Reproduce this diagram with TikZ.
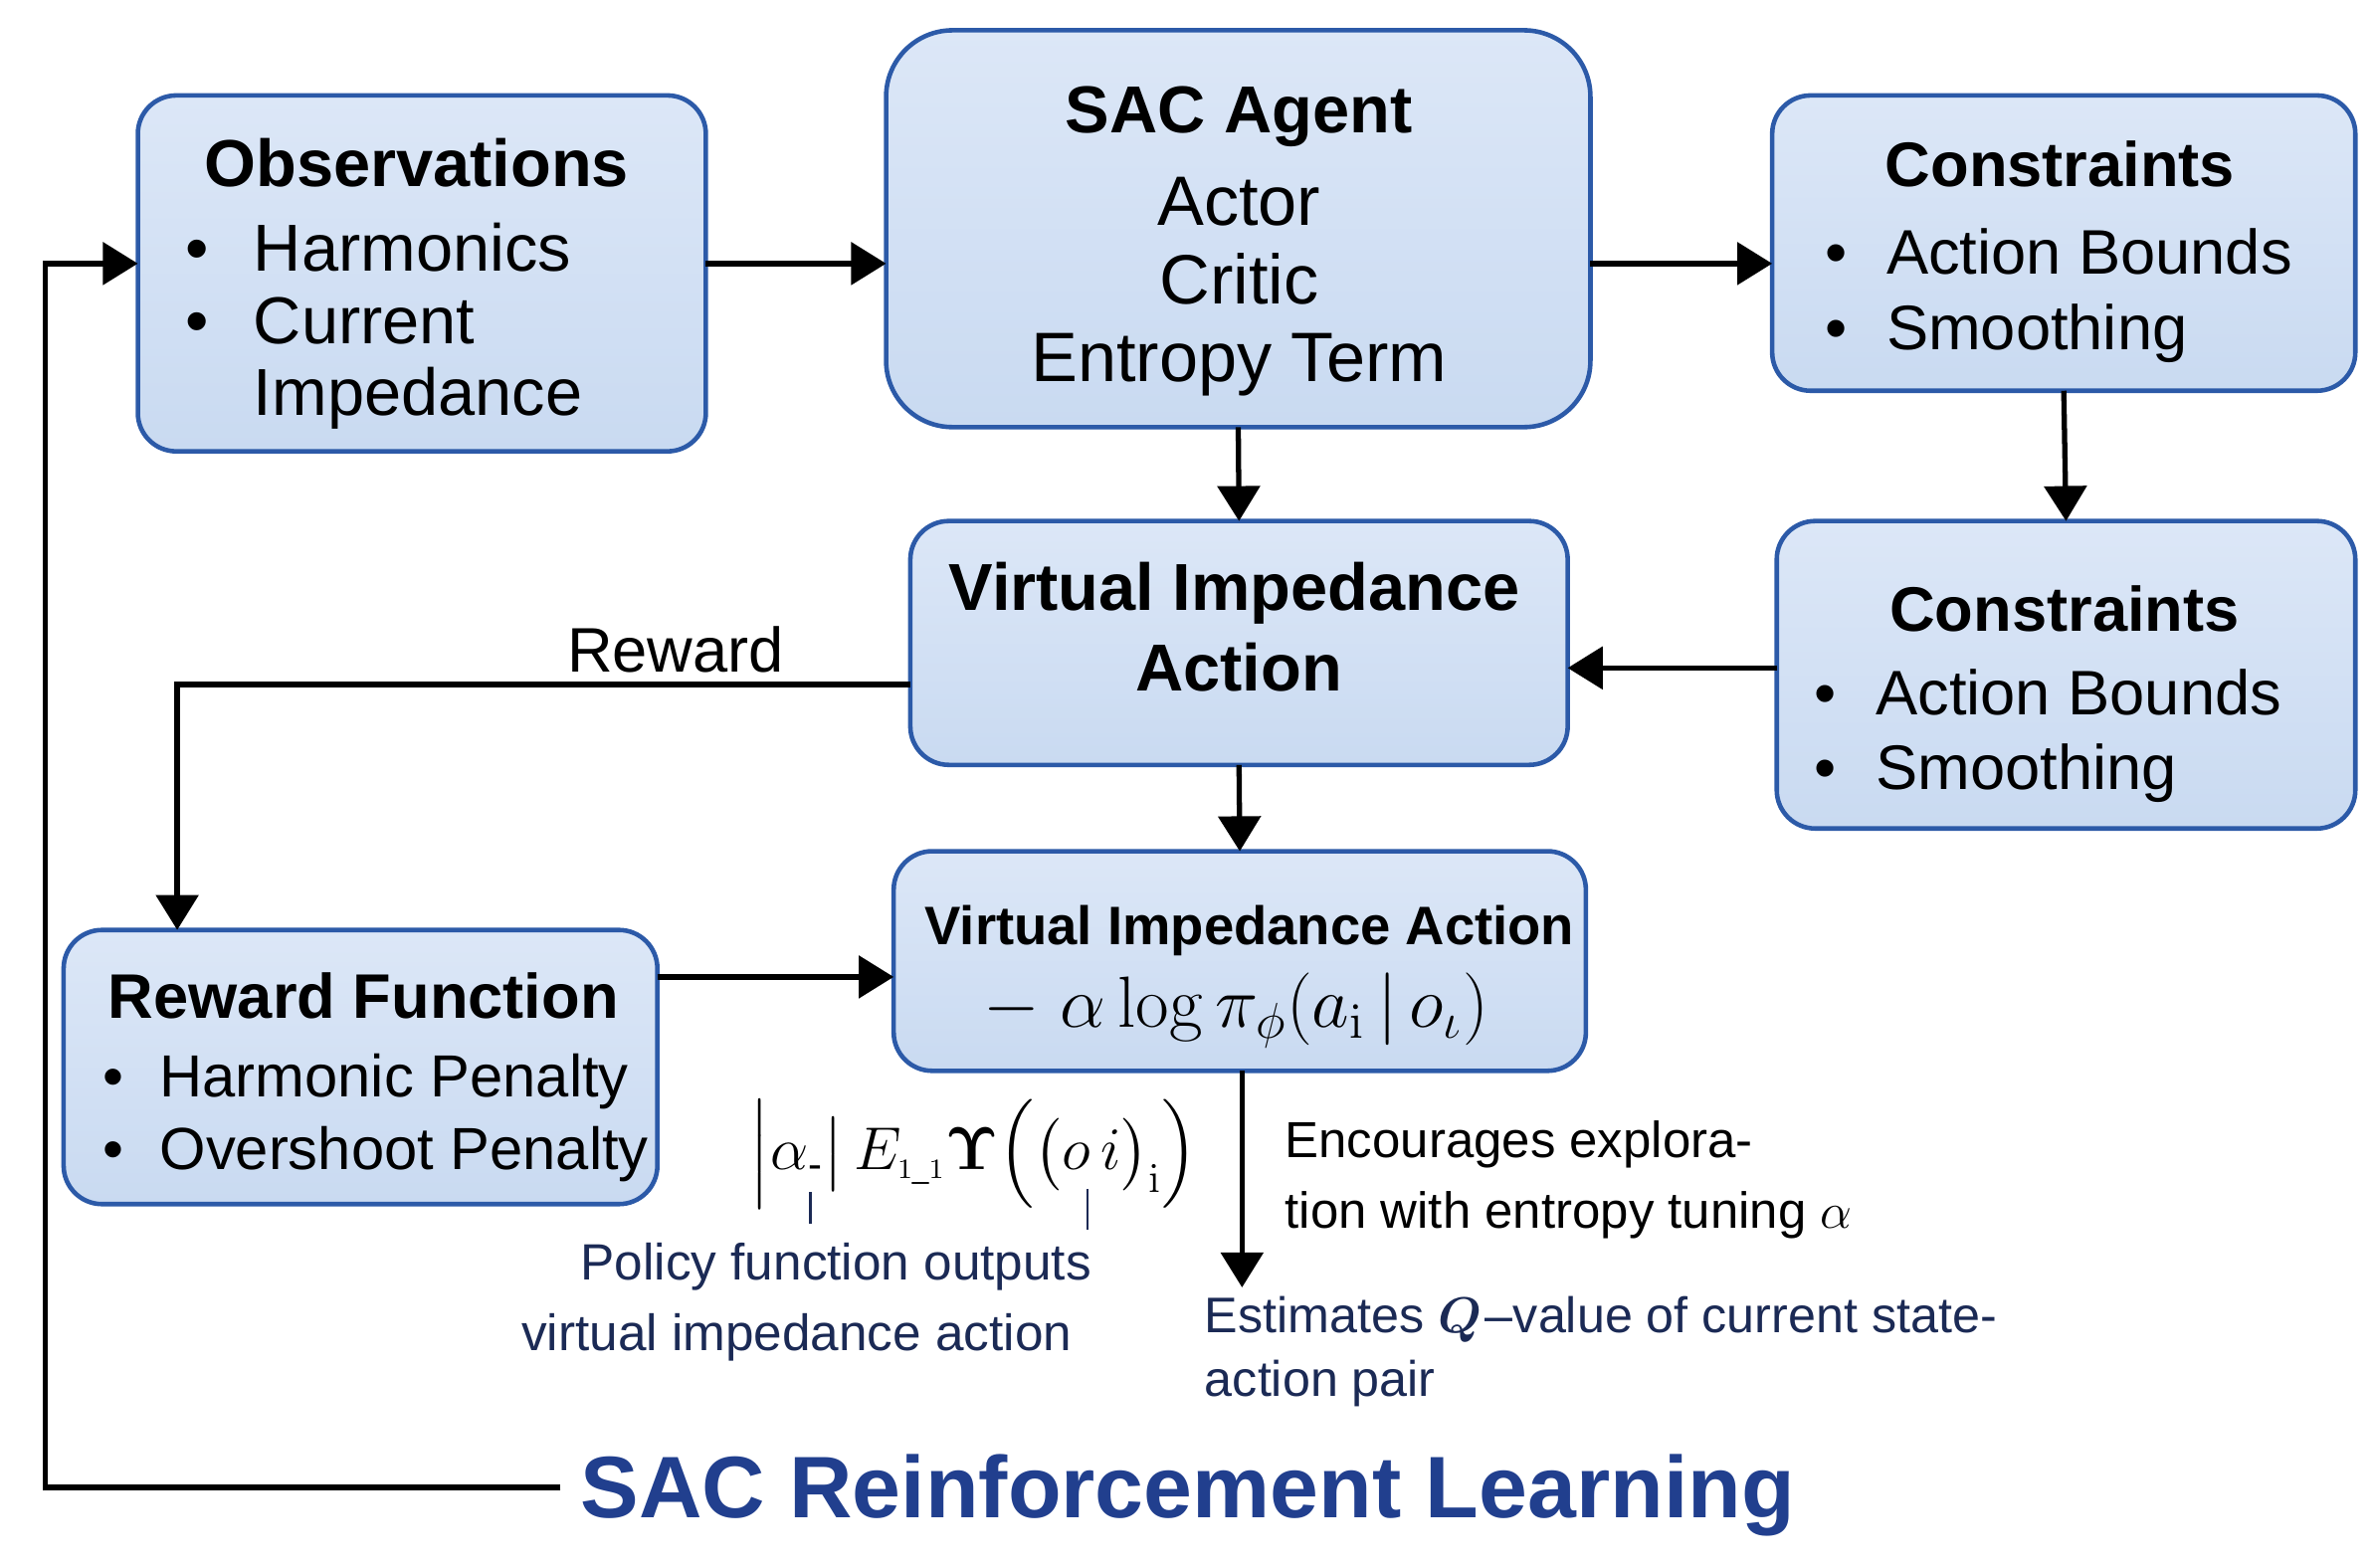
\documentclass[tikz,border=0pt]{standalone}
\usepackage{amsmath}
\usepackage[no-math]{fontspec}
\setmainfont{Liberation Sans}
\usetikzlibrary{arrows.meta,calc}
\definecolor{boxtop}{HTML}{DCE7F7}
\definecolor{boxbot}{HTML}{C9DAF1}
\definecolor{boxline}{HTML}{2C5AA8}
\definecolor{navy}{HTML}{1B2A55}
\definecolor{titleblue}{HTML}{213F8E}
\def\pu{0.015223cm}
\begin{document}
\begin{tikzpicture}[x=0.015223cm,y=-0.015223cm,
  box/.style={draw=boxline, line width=1.3pt, top color=boxtop, bottom color=boxbot,
    rounded corners=11pt, inner sep=0pt, outer sep=0pt},
  hd/.style={font=\fontsize{19}{22}\selectfont\bfseries, inner sep=0pt},
  tx/.style={font=\fontsize{19}{22}\selectfont, inner sep=0pt},
  hs/.style={font=\fontsize{18}{21}\selectfont\bfseries, inner sep=0pt},
  ts/.style={font=\fontsize{18}{21}\selectfont, inner sep=0pt},
  note/.style={font=\fontsize{14.6}{18}\selectfont, inner sep=0pt, text=navy},
  arr/.style={line width=1.5pt, -{Triangle[length=10pt,width=12pt]}},
  ln/.style={line width=1.5pt}]
\useasboundingbox (0,0) rectangle (1568,1034.6);

% boxes
\node[box, minimum width={375*\pu}, minimum height={235*\pu}] (obs) at (278.5,180.5) {};
\node[box, rounded corners=19pt, minimum width={465*\pu}, minimum height={262*\pu}] (sac) at (817.5,151) {};
\node[box, minimum width={385*\pu}, minimum height={195*\pu}] (ct) at (1362.5,160.5) {};
\node[box, minimum width={434*\pu}, minimum height={161*\pu}] (via) at (818,424.5) {};
\node[box, minimum width={382*\pu}, minimum height={203*\pu}] (cr) at (1364,445.5) {};
\node[box, minimum width={392*\pu}, minimum height={181*\pu}] (rf) at (238,704.5) {};
\node[box, minimum width={457*\pu}, minimum height={145*\pu}] (vib) at (818.5,634.5) {};

% Observations
\node[hd, anchor=base] (obsT) at (275,123) {Observations};
\node[tx, anchor=base] (obsb1) at (130,179) {•};
\node[tx, anchor=base west] (obs1) at (167,179) {Harmonics};
\node[tx, anchor=base] (obsb2) at (130,227) {•};
\node[tx, anchor=base west] (obs2) at (167,227) {Current};
\node[tx, anchor=base west] (obs3) at (167,274) {Impedance};

% SAC Agent
\node[hd, anchor=base] (sacT) at (818,88) {SAC Agent};
\node[tx, font=\fontsize{20}{23}\selectfont, anchor=base] (sac1) at (818,149) {Actor};
\node[tx, font=\fontsize{20}{23}\selectfont, anchor=base] (sac2) at (818,201) {Critic};
\node[tx, font=\fontsize{20}{23}\selectfont, anchor=base] (sac3) at (818,252) {Entropy Term};

% Constraints top
\node[hs, anchor=base] (ctT) at (1360,123) {Constraints};
\node[ts, anchor=base] (ctb1) at (1212,181) {•};
\node[ts, anchor=base west] (ct1) at (1245,181) {Action Bounds};
\node[ts, anchor=base] (ctb2) at (1212,231) {•};
\node[ts, anchor=base west] (ct2) at (1245,231) {Smoothing};

% Constraints right
\node[hs, anchor=base] (crT) at (1363,417) {Constraints};
\node[ts, anchor=base] (crb1) at (1205,472) {•};
\node[ts, anchor=base west] (cr1) at (1238,472) {Action Bounds};
\node[ts, anchor=base] (crb2) at (1205,521) {•};
\node[ts, anchor=base west] (cr2) at (1238,521) {Smoothing};

% Virtual Impedance Action (middle)
\node[hd, anchor=base] (viaT1) at (815,403) {Virtual Impedance};
\node[hd, anchor=base] (viaT2) at (818,456) {Action};

% Reward function
\node[hs, anchor=base] (rfT) at (240,672) {Reward Function};
\node[ts, font=\fontsize{17}{20}\selectfont, anchor=base] (rfb1) at (75,724) {•};
\node[ts, font=\fontsize{17}{20}\selectfont, anchor=base west] (rf1) at (105,724) {Harmonic Penalty};
\node[ts, font=\fontsize{17}{20}\selectfont, anchor=base] (rfb2) at (75,772) {•};
\node[ts, font=\fontsize{17}{20}\selectfont, anchor=base west] (rf2) at (105,772) {Overshoot Penalty};

% Virtual Impedance Action (bottom)
\node[font=\fontsize{15.5}{18}\selectfont\bfseries, inner sep=0pt, anchor=base] (vibT) at (825,624) {Virtual Impedance Action};
\node[font=\fontsize{20}{24}\selectfont, inner sep=0pt, anchor=base] (vibF) at (816,678)
  {$-\;\alpha\log\pi_{\phi}(a_{\mathrm{i}}\,|\,o_{\iota})$};

% connectors
\coordinate (y174) at (0,174);
\coordinate (y441) at (0,441);
\coordinate (y452) at (0,452);
\coordinate (y645) at (0,645);
\coordinate (y982) at (0,982);
\coordinate (xl) at (30,0);
\coordinate (xr) at (117,0);
\coordinate (qend) at (820,850);

\draw[arr] (obs.east |- y174) -- (sac.west |- y174);
\draw[arr] (sac.east |- y174) -- (ct.west |- y174);
\draw[arr] (sac.south) -- (via.north);
\draw[arr] (ct.south) -- (cr.north);
\draw[arr] (cr.west |- y441) -- (via.east |- y441);
\draw[arr] (via.west |- y452) -| (xr |- rf.north);
\draw[arr] (via.south) -- (vib.north);
\draw[arr] (rf.east |- y645) -- (vib.west |- y645);
\draw[arr] (qend |- vib.south) -- (qend);

\node[font=\fontsize{18}{21}\selectfont, inner sep=0pt, anchor=base] (rwlab) at (446,444) {Reward};

% title and feedback loop
\node[font=\fontsize{25}{30}\selectfont\bfseries, text=titleblue, inner sep=0pt, inner xsep={13*\pu}, anchor=base west] (title) at (370,1002) {SAC Reinforcement Learning};
\draw[arr] (title.west |- y982) -- (xl |- y982) -- (xl |- y174) -- (obs.west |- y174);

% annotations
\node[font=\fontsize{17}{20}\selectfont, inner sep=0pt, anchor=base] (eq) at (643,772)
  {$\Big|\alpha_{\text{-}}\big|\,E_{\scriptscriptstyle 1\_1}\boldsymbol{\Upsilon}\Big(\big(o\,i\big)_{\mathrm{i}}\Big)$};
\draw[line width=0.6pt, navy] (535,787) -- (535,808);
\draw[line width=0.6pt, navy] (718,785) -- (718,812);

\node[font=\fontsize{14.5}{17}\selectfont, inner sep=0pt, anchor=base west] (enc1) at (848,764) {Encourages explora-};
\node[font=\fontsize{14.5}{17}\selectfont, inner sep=0pt, anchor=base west] (enc2) at (848,811) {tion with entropy tuning $\alpha$};

\node[note, anchor=base] (pol1) at (552,845) {Policy function outputs};
\node[note, anchor=base] (pol2) at (526,892) {virtual impedance action};

\node[note, font=\fontsize{14.3}{18}\selectfont, anchor=base west] (est1) at (795,880) {Estimates $\boldsymbol{Q}$\kern1pt–value of current state-};
\node[note, font=\fontsize{14.3}{18}\selectfont, anchor=base west] (est2) at (795,922) {action pair};
\end{tikzpicture}
\end{document}
